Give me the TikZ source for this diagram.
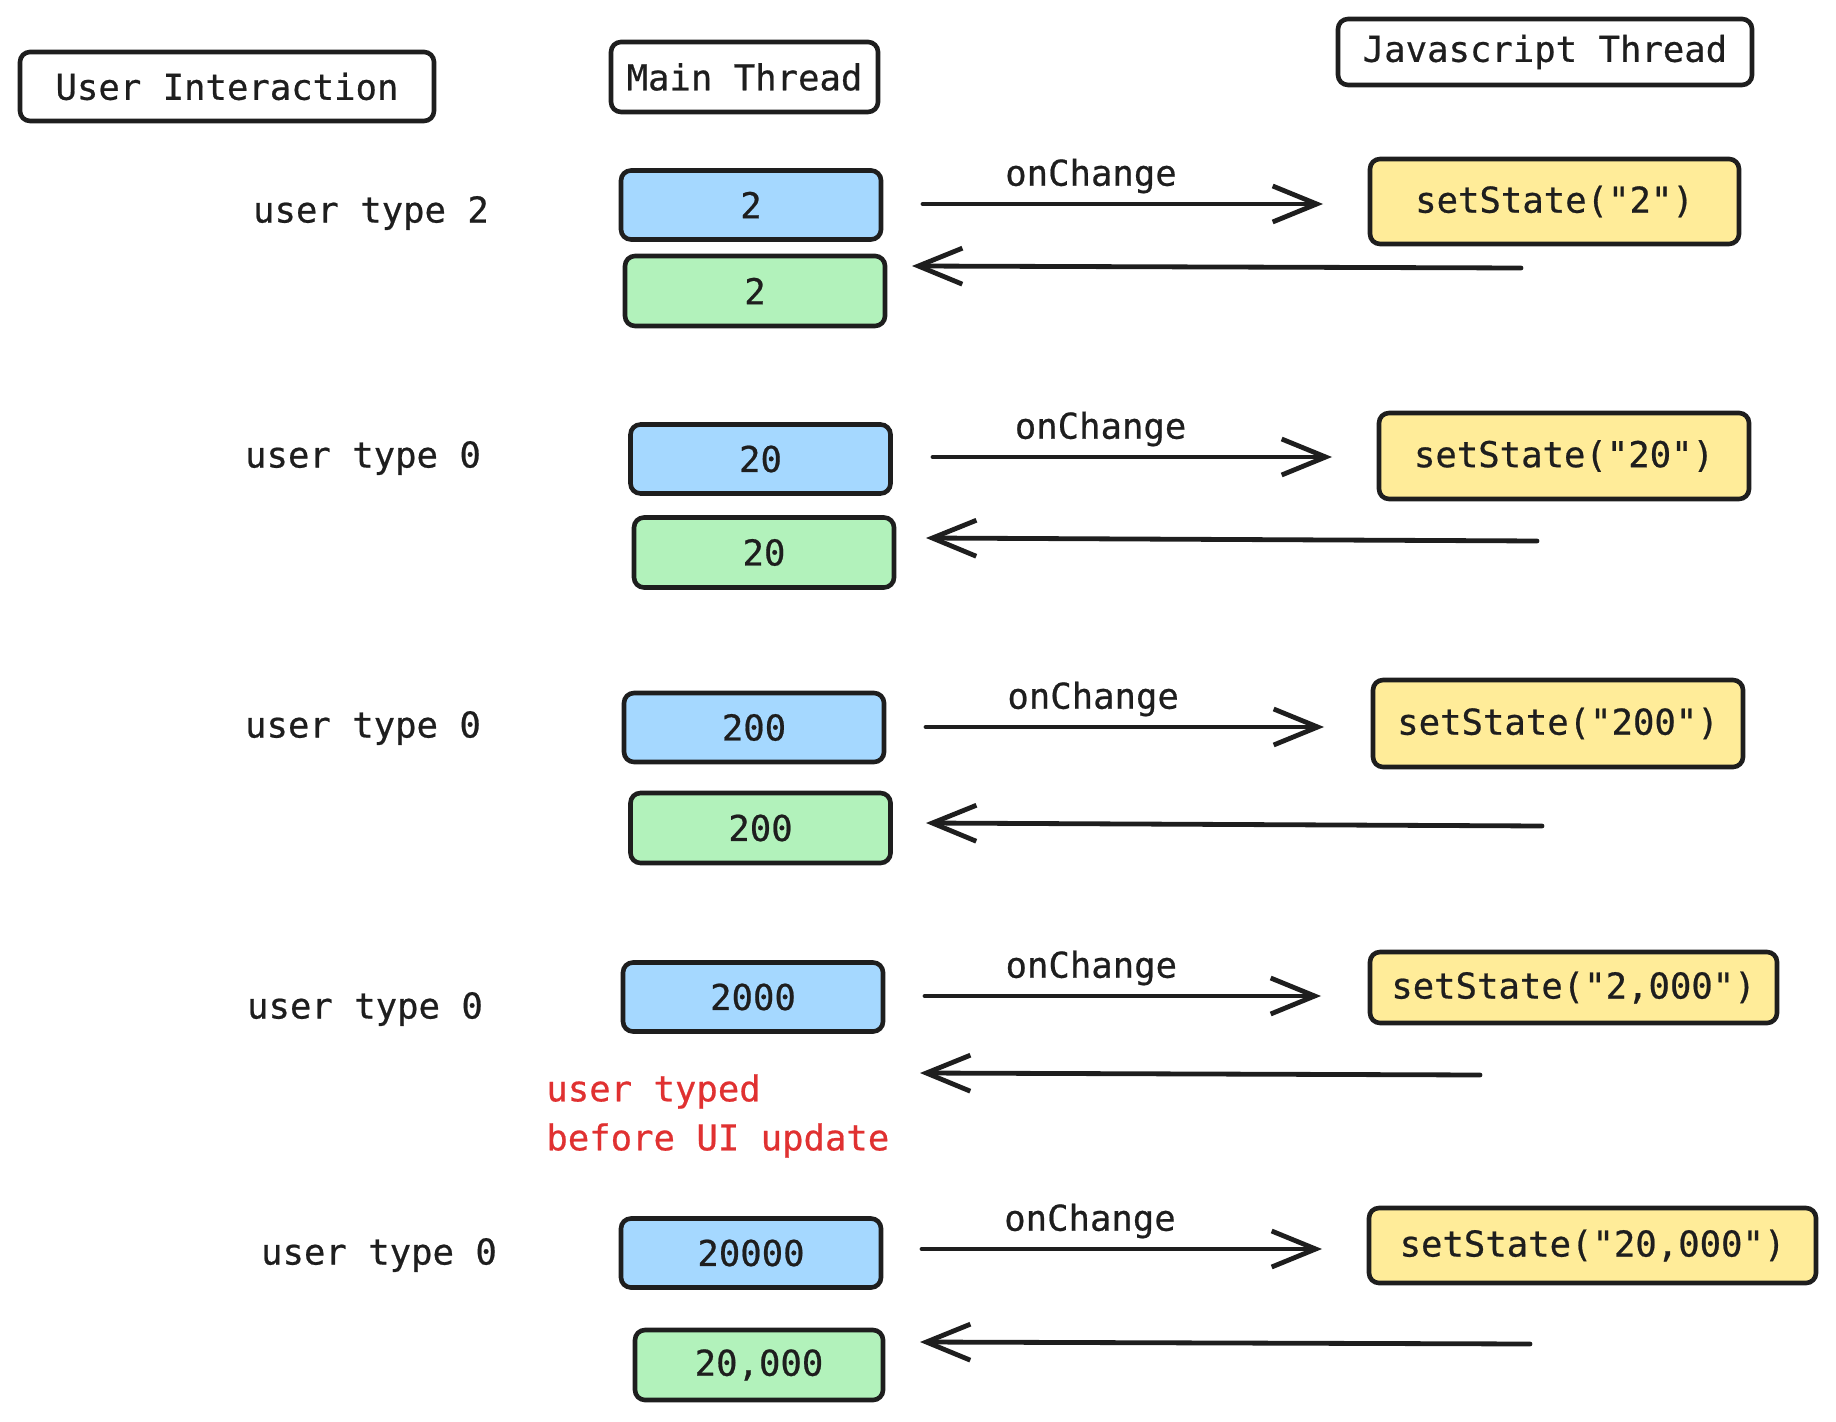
\documentclass[tikz,border=0pt]{standalone}
\usepackage{fontspec}
\usetikzlibrary{arrows.meta}
\newfontfamily\handfont[FakeBold=0.6]{DejaVu Sans Mono}
\definecolor{ink}{HTML}{1E1E1E}
\definecolor{bluefill}{HTML}{A5D8FF}
\definecolor{greenfill}{HTML}{B2F2BB}
\definecolor{yellowfill}{HTML}{FFEC99}
\definecolor{redtxt}{HTML}{E03131}
\tikzset{
  txt/.style={font=\handfont\fontsize{17.8}{24.5}\selectfont, text=ink, inner sep=0pt},
  bx/.style={txt, draw=ink, line width=2.3pt, rounded corners=5pt},
  hdr/.style={bx, fill=white},
  bluebox/.style={bx, fill=bluefill, minimum width=130pt, minimum height=34.5pt},
  greenbox/.style={bx, fill=greenfill, minimum width=130pt, minimum height=35pt},
  yellowbox/.style={bx, fill=yellowfill},
  conn/.style={draw=ink, line width=2.4pt, line cap=round, -{Straight Barb[length=22pt,width=18pt,line width=2.4pt]}},
  lbl/.style={txt, pos=0.42, yshift=14pt},
}
\begin{document}
\begin{tikzpicture}[x=0.5pt,y=-0.5pt]
\useasboundingbox (0,0) rectangle (1836,1422);
% headers
\node[hdr, minimum width=207pt, minimum height=34.5pt] (ui) at (227,86.5) {User Interaction};
\node[hdr, minimum width=133.5pt, minimum height=35pt] (mt) at (744.5,77) {Main Thread};
\node[hdr, minimum width=207pt, minimum height=33pt] (jt) at (1545,52) {Javascript Thread};

% row 1
\node[txt] (u1) at (371,213) {user type 2};
\node[bluebox] (b1) at (751,205) {2};
\node[greenbox] (g1) at (755,291) {2};
\node[yellowbox, minimum width=184.5pt, minimum height=42.5pt] (y1) at (1554.5,201.5) {setState("2")};
\coordinate (a1s) at (923,204); \coordinate (a1e) at (1323,204);
\coordinate (r1s) at (1521,268); \coordinate (r1e) at (912,266);
\draw[conn] (a1s) -- node[lbl] (l1) {onChange} (a1e);
\draw[conn] (r1s) -- (r1e);

% row 2
\node[txt] (u2) at (363,458) {user type 0};
\node[bluebox] (b2) at (760.5,459) {20};
\node[greenbox] (g2) at (764,552.5) {20};
\node[yellowbox, minimum width=185pt, minimum height=43pt] (y2) at (1564,456) {setState("20")};
\coordinate (a2s) at (933,457); \coordinate (a2e) at (1332,457);
\coordinate (r2s) at (1537,541); \coordinate (r2e) at (926,538);
\draw[conn] (a2s) -- node[lbl] (l2) {onChange} (a2e);
\draw[conn] (r2s) -- (r2e);

% row 3
\node[txt] (u3) at (363,728) {user type 0};
\node[bluebox] (b3) at (754,727.5) {200};
\node[greenbox] (g3) at (760.5,828) {200};
\node[yellowbox, minimum width=185pt, minimum height=43.5pt] (y3) at (1558,723.5) {setState("200")};
\coordinate (a3s) at (926,727); \coordinate (a3e) at (1324,727);
\coordinate (r3s) at (1542,826); \coordinate (r3e) at (926,823);
\draw[conn] (a3s) -- node[lbl] (l3) {onChange} (a3e);
\draw[conn] (r3s) -- (r3e);

% row 4
\node[txt] (u4) at (365,1009) {user type 0};
\node[bluebox] (b4) at (753,997) {2000};
\node[yellowbox, minimum width=203.5pt, minimum height=35.5pt] (y4) at (1573.5,987.5) {setState("2,000")};
\coordinate (a4s) at (925,996); \coordinate (a4e) at (1321,996);
\coordinate (r4s) at (1480,1075); \coordinate (r4e) at (920,1073);
\draw[conn] (a4s) -- node[lbl] (l4) {onChange} (a4e);
\draw[conn] (r4s) -- (r4e);
\node[txt, text=redtxt, align=left, anchor=west] (note) at (546,1116) {user typed\\before UI update};

% row 5
\node[txt] (u5) at (379,1255) {user type 0};
\node[bluebox] (b5) at (751,1253) {20000};
\node[greenbox, minimum width=124pt] (g5) at (759,1365) {20,000};
\node[yellowbox, minimum width=223.5pt, minimum height=37.5pt] (y5) at (1592.5,1245.5) {setState("20,000")};
\coordinate (a5s) at (922,1249); \coordinate (a5e) at (1322,1249);
\coordinate (r5s) at (1530,1344); \coordinate (r5e) at (920,1342);
\draw[conn] (a5s) -- node[lbl] (l5) {onChange} (a5e);
\draw[conn] (r5s) -- (r5e);
\end{tikzpicture}
\end{document}
